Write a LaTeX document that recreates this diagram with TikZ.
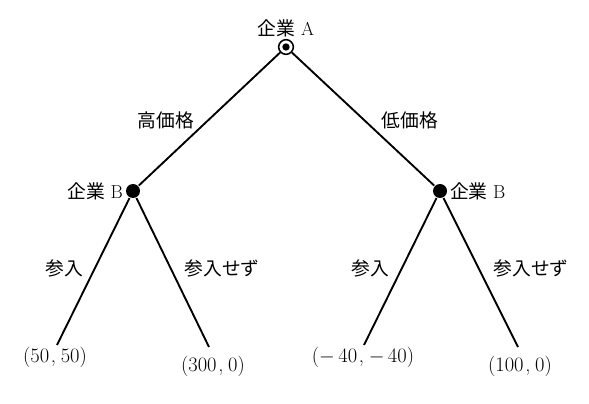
\documentclass[tikz,border=0pt]{standalone}
\usepackage{fontspec}
\newfontfamily\jp{Noto Sans CJK JP}
\usepackage{tikz}

\newcommand{\pay}[2]{(#1\kern1.5pt,\kern4pt#2)}

\begin{document}
\begin{tikzpicture}[x=0.03cm,y=-0.03cm,font=\fontsize{16pt}{19pt}\selectfont,
        every path/.style={line width=1.6pt},
        choice/.style={fill,circle,inner sep=0pt,minimum size=4.2mm},
        start/.style={draw,circle,inner sep=0pt,minimum size=4.4mm,line width=1.3pt,
            path picture={\fill (path picture bounding box.center) circle (1.1mm);}},
        txt/.style={inner sep=1pt},
        pays/.style={inner sep=1pt,font=\fontsize{17.5pt}{20pt}\selectfont}]
        \useasboundingbox (0,0) rectangle (589,404);

        \node[start,label={[txt]90:{\jp 企業} A}] (a) at (286,47) {};
        \node[choice,label={[txt]180:{\jp 企業} B}] (b1) at (133,191) {};
        \node[choice,label={[txt]0:{\jp 企業} B}] (b2) at (440,191) {};

        \foreach \x/\y[count=\xi] in {57/345,209/347,364/345,518/347}
            \coordinate (e\xi) at (\x,\y);

        \node[pays] (p1) at (55,357) {\pay{50}{50}};
        \node[pays] (p2) at (213,366) {\pay{300}{0}};
        \node[pays] (p3) at (363,357) {\pay{$-$\,40}{$-$\,40}};
        \node[pays] (p4) at (520,366) {\pay{100}{0}};

        \draw (a) -- (b1);
        \draw (a) -- (b2);
        \draw (b1) -- (e1);
        \draw (b1) -- (e2);
        \draw (b2) -- (e3);
        \draw (b2) -- (e4);

        \node[txt] (h) at (166,120) {\jp 高価格};
        \node[txt] (l) at (410,120) {\jp 低価格};
        \node[txt] (in1) at (64,268) {\jp 参入};
        \node[txt] (out1) at (222,268) {\jp 参入せず};
        \node[txt] (in2) at (370,268) {\jp 参入};
        \node[txt] (out2) at (531,268) {\jp 参入せず};

    \end{tikzpicture}
\end{document}
